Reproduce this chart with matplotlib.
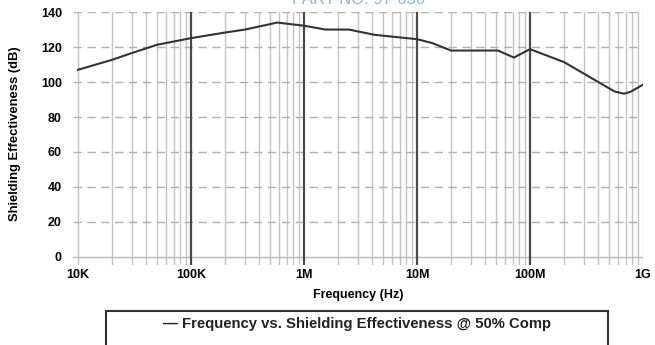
import matplotlib.pyplot as plt
from matplotlib.patches import Rectangle

plt.rcParams['font.family'] = ['Liberation Sans', 'DejaVu Sans']

freq = [1e4, 2e4, 3e4, 5e4, 1e5, 2e5, 3e5, 5.8e5, 1e6, 1.55e6, 2.5e6, 4.2e6,
        1e7, 1.36e7, 2e7, 5.2e7, 7.2e7, 1e8, 2e8, 5.6e8, 6.8e8, 7.8e8, 1e9]
se_db = [107, 112.7, 116.6, 121.3, 125.1, 128.3, 130, 134, 132.2, 130, 130, 127,
         124.5, 122.3, 118, 118, 114, 118.8, 111.4, 94.6, 93.3, 94.5, 98.5]

x_ticks = [1e4, 1e5, 1e6, 1e7, 1e8, 1e9]
x_labels = ['10K', '100K', '1M', '10M', '100M', '1G']
y_ticks = [0, 20, 40, 60, 80, 100, 120, 140]

fig = plt.figure(figsize=(6.55, 3.45), dpi=100)
ax = fig.add_axes([0.1115, 0.232, 0.8702, 0.733])
ax.set_xscale('log')
ax.set_xlim(9030, 1e9)
ax.set_ylim(-4.6, 140)

# vertical grid: light minor lines, dark inner decades
for dec in range(4, 9):
    for m in range(1, 10):
        f = m * 10 ** dec
        if m == 1 and dec > 4:
            ax.axvline(f, color='#4a4a4a', lw=1.6, zorder=1)
        else:
            ax.axvline(f, color='#c4c4c4', lw=1.0, zorder=0)
ax.axvline(1e9, color='#c4c4c4', lw=1.0, zorder=0)

for y in y_ticks[1:]:
    ax.axhline(y, color='#b0b0b0', lw=1.0, dashes=(6, 4), zorder=0)
ax.axhline(0, color='#b8b8b8', lw=1.0, zorder=0)

ax.plot(freq, se_db, color='#333333', lw=1.5, zorder=3)

ax.set_xticks(x_ticks)
ax.set_xticklabels(x_labels)
ax.set_xticks([], minor=True)
ax.set_yticks(y_ticks)
ax.tick_params(length=0, labelsize=9)
ax.tick_params(axis='y', pad=8)
ax.tick_params(axis='x', pad=3)
for lbl in ax.get_xticklabels() + ax.get_yticklabels():
    lbl.set_fontweight('bold')
for s in ax.spines.values():
    s.set_visible(False)

ax.set_xlabel('Frequency (Hz)', fontsize=9, fontweight='bold', labelpad=6)
ax.set_ylabel('Shielding Effectiveness (dB)', fontsize=9.4, fontweight='bold', labelpad=8)
ax.yaxis.set_label_coords(-0.092, 0.52)

fig.text(0.548, 0.988, 'PART NO. 97-050', color='#8ab4dc', fontsize=12,
         ha='center', va='baseline')

fig.patches.append(Rectangle((106 / 655, -0.05), (608 - 106) / 655, (345 - 311) / 345 + 0.05,
                             transform=fig.transFigure, fill=False,
                             edgecolor='#333333', lw=1.5))
fig.text(357 / 655, 0.061, '\u2014 Frequency vs. Shielding Effectiveness @ 50% Comp',
         fontsize=10.7, fontweight='bold', ha='center', va='center', color='#222222')

fig.savefig('out.png', dpi=100)
